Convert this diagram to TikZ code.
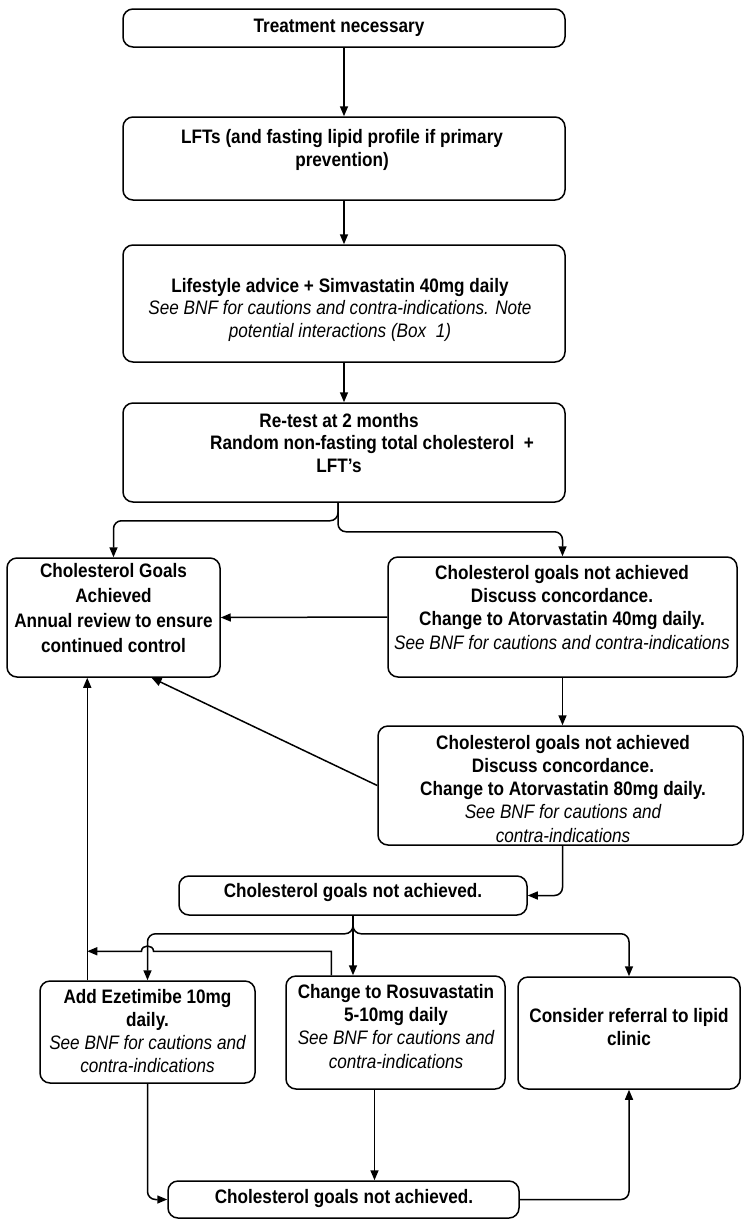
\documentclass[tikz,border=0pt]{standalone}
\usepackage{fontspec}
\setmainfont[FakeStretch=0.88]{Liberation Sans}
\usetikzlibrary{arrows.meta,calc}
% italic, regular-weight note lines inside bold boxes
\newcommand\bnf[1]{{\mdseries\itshape #1}}
\begin{document}
\begin{tikzpicture}[x=1pt,y=-1pt,
  box/.style={draw, line width=1.5pt, rounded corners=10pt, inner sep=0pt},
  % text nodes are placed by the baseline of their last line
  txt/.style={anchor=base, align=center, inner sep=0pt,
    font=\bfseries\fontsize{19.5}{23}\selectfont},
  lead/.style={font=\bfseries\fontsize{19.5}{#1}\selectfont},
  link/.style={line width=1.5pt, -{Triangle[length=10pt,width=8pt]}},
  elbow/.style={link, rounded corners=8pt}]
\fill[white] (0,0) rectangle (746,1219);
\useasboundingbox (0,0) rectangle (746,1219);

% ---- boxes ----
\node[box, minimum width=442pt, minimum height=38pt]  (treat)  at (344,28)     {};
\node[box, minimum width=442pt, minimum height=83pt]  (lft)    at (344,158.5)  {};
\node[box, minimum width=442pt, minimum height=117pt] (life)   at (344,303.5)  {};
\node[box, minimum width=442pt, minimum height=99pt]  (retest) at (344,452.5)  {};
\node[box, minimum width=213pt, minimum height=119pt] (goals)  at (113.5,617.5){};
\node[box, minimum width=349pt, minimum height=120pt] (ator40) at (562.5,617)  {};
\node[box, minimum width=365pt, minimum height=119pt] (ator80) at (560.5,785.5){};
\node[box, minimum width=348pt, minimum height=39pt]  (mid)    at (353,895.5)  {};
\node[box, minimum width=215pt, minimum height=102pt] (eze)    at (147.5,1032) {};
\node[box, minimum width=219pt, minimum height=113pt] (rosu)   at (395.5,1032.5){};
\node[box, minimum width=222pt, minimum height=112pt] (refer)  at (629,1033)   {};
\node[box, minimum width=351pt, minimum height=37pt]  (bot)    at (343.5,1199.5){};

% ---- texts ----
\node[txt] (treat-t) at (339,32) {Treatment necessary};
\node[txt] (lft-t) at (342,166) {LFTs (and fasting lipid profile if primary\\prevention)};
\node[txt, lead=22.5] (life-t) at (340,337)
  {Lifestyle advice + Simvastatin 40mg daily\\
   \bnf{See BNF for cautions and contra-indications. Note}\\
   \bnf{potential interactions (Box\ \ 1)}};
\node[txt, lead=22.5] (retest-t) at (339,472)
  {Re-test at 2 months\\
   \hspace*{66pt}Random non-fasting total cholesterol\ \ +\\
   LFT{\char"0027}s};
\node[txt, lead=24.7] (goals-t) at (113.5,652)
  {Cholesterol Goals\\Achieved\\Annual review to ensure\\continued control};
\node[txt, lead=23.3] (ator40-t) at (562,649)
  {Cholesterol goals not achieved\\Discuss concordance.\\
   Change to Atorvastatin 40mg daily.\\
   \bnf{See BNF for cautions and contra-indications}};
\node[txt, lead=23.2] (ator80-t) at (563,842)
  {Cholesterol goals not achieved\\Discuss concordance.\\
   Change to Atorvastatin 80mg daily.\\
   \bnf{See BNF for cautions and}\\\bnf{contra-indications}};
\node[txt] (mid-t) at (353,897) {Cholesterol goals not achieved.};
\node[txt] (eze-t) at (147.5,1072)
  {Add Ezetimibe 10mg\\daily.\\\bnf{See BNF for cautions and}\\\bnf{contra-indications}};
\node[txt, lead=23.3] (rosu-t) at (396,1068)
  {Change to Rosuvastatin\\5-10mg daily\\\bnf{See BNF for cautions and}\\\bnf{contra-indications}};
\node[txt] (refer-t) at (629,1045) {Consider referral to lipid\\clinic};
\node[txt] (bot-t) at (344,1203) {Cholesterol goals not achieved.};

% ---- connectors ----
\draw[link] (treat.south) -- (lft.north);
\draw[link] (lft.south) -- (life.north);
\draw[link] (life.south) -- (retest.north);

\draw[elbow] ([xshift=-6pt]retest.south) -- ++(0,18) -| (goals.north);
\draw[elbow] ([xshift=-6pt]retest.south) -- ++(0,29) -| (ator40.north);

\draw[link] (ator40.west) -- (goals.east);
\draw[link] (ator40.south) -- (ator40.south |- ator80.north);
\draw[link] (ator80.west) -- ([xshift=38pt]goals.south);
\draw[elbow] ([xshift=2pt]ator80.south) |- (mid.east);

\draw[elbow] (mid.south) -- ++(0,18) -| (eze.north);
\draw[elbow] (mid.south) -- ++(0,18) -| (refer.north);
\draw[link] (mid.south) -- (mid.south |- rosu.north);

\coordinate (ezup) at ($(eze.north west)+(48,0)$);
\coordinate (rosuup) at ($(rosu.north west)+(46,0)$);
\draw[link] (ezup) -- (ezup |- goals.south);
\draw[link] (rosuup) |- ($(eze.north)+(6,-29)$)
  .. controls +(0,-7) and +(0,-7) .. ($(eze.north)+(-6,-29)$)
  -- ($(ezup)+(0,-29)$);

\draw[elbow] (eze.south) |- (bot.west);
\draw[link] ([xshift=-21pt]rosu.south) -- ([xshift=-21pt]rosu.south |- bot.north);
\draw[elbow] (bot.east) -| (refer.south);
\end{tikzpicture}
\end{document}
